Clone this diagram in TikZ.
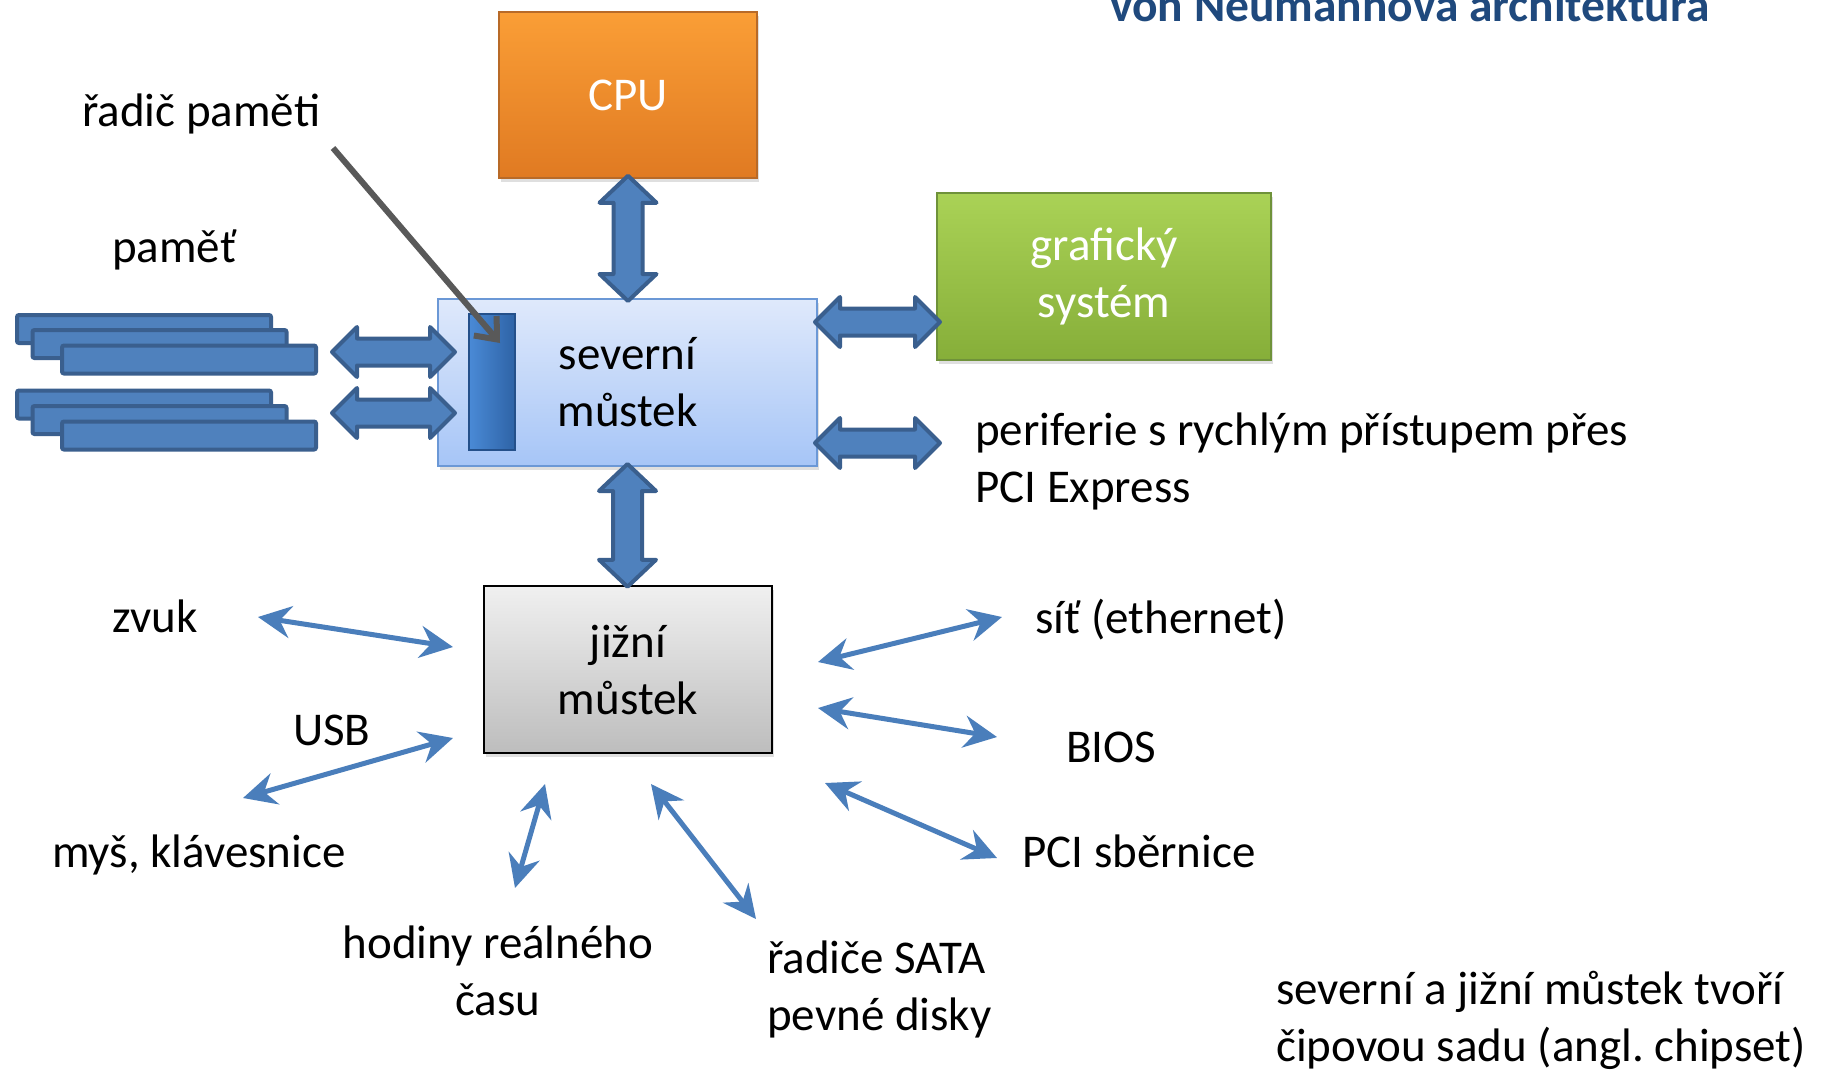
\documentclass[tikz,border=0pt]{standalone}
\usepackage{fontspec}
\setmainfont{Carlito}
\usetikzlibrary{arrows.meta,shadows,calc}
\frenchspacing
\definecolor{blk}{HTML}{4F81BD}
\definecolor{blkb}{HTML}{3A5F8E}
\definecolor{thinblue}{HTML}{4A7EBB}
\definecolor{titleblue}{HTML}{1F497D}
\definecolor{cputop}{HTML}{FA9E36}
\definecolor{cpubot}{HTML}{E07A22}
\definecolor{cpubord}{HTML}{B86A28}
\definecolor{gfxtop}{HTML}{AAD256}
\definecolor{gfxbot}{HTML}{86AE39}
\definecolor{gfxbord}{HTML}{6F923A}
\definecolor{nbtop}{HTML}{DFE9FB}
\definecolor{nbbot}{HTML}{A6C5F7}
\definecolor{nbbord}{HTML}{6B98D6}
\definecolor{mctop}{HTML}{4A8AD6}
\definecolor{mcbot}{HTML}{2E63A6}
\definecolor{mcbord}{HTML}{24508A}
\definecolor{sbtop}{HTML}{F0F0F0}
\definecolor{sbbot}{HTML}{BDBDBD}
\definecolor{grayarr}{HTML}{595959}
\newcommand\leftlines[1]{\vtop{\halign{##\hfil\cr #1\crcr}}}
\newcommand\centerlines[1]{\vtop{\halign{\hfil##\hfil\cr #1\crcr}}}
\newcommand\vblockarrow[2]{%
 \draw[blockarrow] let \p1=(#1), \p2=(#2) in
 (\x1,\y1) -- (\x1+28.5pt,\y1-27pt) -- (\x1+14.5pt,\y1-27pt) -- (\x1+14.5pt,\y2+27pt) -- (\x1+28.5pt,\y2+27pt) -- (\x1,\y2) -- (\x1-28.5pt,\y2+27pt) -- (\x1-14.5pt,\y2+27pt) -- (\x1-14.5pt,\y1-27pt) -- (\x1-28.5pt,\y1-27pt) -- cycle;}
\newcommand\hblockarrow[2]{%
 \draw[blockarrow] let \p1=(#1), \p2=(#2) in
 (\x1,\y1) -- (\x1+25pt,\y1+25pt) -- (\x1+25pt,\y1+13.5pt) -- (\x2-25pt,\y1+13.5pt) -- (\x2-25pt,\y1+25pt) -- (\x2,\y1) -- (\x2-25pt,\y1-25pt) -- (\x2-25pt,\y1-13.5pt) -- (\x1+25pt,\y1-13.5pt) -- (\x1+25pt,\y1-25pt) -- cycle;}
\begin{document}
\begin{tikzpicture}[x=1pt,y=-1pt,
  txt/.style={inner sep=0pt, font=\fontsize{47}{57}\selectfont, text=black},
  box/.style={inner sep=0pt, align=center, font=\fontsize{47}{57}\selectfont,
    drop shadow={shadow xshift=2pt, shadow yshift=-4pt, opacity=0.25}},
  stick/.style={draw=blkb, fill=blk, line width=4pt, rounded corners=2pt,
    minimum width=254pt, minimum height=28pt, inner sep=0pt},
  blockarrow/.style={draw=blkb, fill=blk, line width=4pt, line join=round},
  thinarrow/.style={draw=thinblue, line width=5pt,
    {Stealth[length=33pt,width=32pt,inset=11pt]}-{Stealth[length=33pt,width=32pt,inset=11pt]}},
  grayarrow/.style={draw=grayarr, line width=6pt, -{Straight Barb[length=18pt,width=30pt]}}
]
\fill[white] (0,0) rectangle (1822,1070);
\useasboundingbox (0,0) rectangle (1822,1070);

% title
\node[anchor=base west, inner sep=0pt, font=\fontsize{47.5}{57}\selectfont\bfseries, text=titleblue] (title) at (1110,22) {von Neumannova architektura};

% boxes
\node[box, top color=cputop, bottom color=cpubot, draw=cpubord, line width=1.5pt,
  minimum width=258pt, minimum height=166pt, text=white] (cpu) at (628,95) {CPU};
\node[box, top color=gfxtop, bottom color=gfxbot, draw=gfxbord, line width=1.5pt,
  minimum width=334pt, minimum height=167pt, text=white] (gfx) at (1104,276.5) {grafický\\systém};
\node[box, top color=nbtop, bottom color=nbbot, draw=nbbord, line width=2pt,
  minimum width=379pt, minimum height=167pt] (nb) at (627.5,382.5) {severní\\můstek};
\node[inner sep=0pt, left color=mctop, right color=mcbot, draw=mcbord, line width=1.5pt,
  minimum width=46pt, minimum height=136pt] (mc) at (492,382) {};
\node[box, top color=sbtop, bottom color=sbbot, draw=black, line width=2.5pt,
  minimum width=288pt, minimum height=167pt] (sb) at (628,669.5) {jižní\\můstek};

% memory sticks
\node[stick] (m11) at (144,329) {};
\node[stick] (m12) at (159.5,344) {};
\node[stick] (m13) at (189,359.5) {};
\node[stick] (m21) at (144,404.5) {};
\node[stick] (m22) at (159.5,420) {};
\node[stick] (m23) at (189,435.5) {};

% block arrows
\vblockarrow{[yshift=3pt]cpu.south}{[yshift=-3pt]nb.north}
\vblockarrow{[yshift=3pt]nb.south}{[yshift=-2pt]sb.north}
\coordinate (ma1) at (332,352);
\coordinate (mb1) at (455,352);
\coordinate (ma2) at (332,413);
\coordinate (mb2) at (455,413);
\hblockarrow{ma1}{mb1}
\hblockarrow{ma2}{mb2}
\coordinate (ga) at (815,322);
\coordinate (gb) at (940,322);
\coordinate (pa) at (815,443);
\coordinate (pb) at (940,443);
\hblockarrow{ga}{gb}
\hblockarrow{pa}{pb}

% labels
\node[txt, anchor=base west] (rp) at (82,127) {řadič paměti};
\node[txt, anchor=base west] (mem) at (112,262) {paměť};
\node[txt, anchor=base west] (pcie) at (975,445) {\leftlines{periferie s rychlým přístupem přes\cr PCI Express}};
\node[txt, anchor=base west] (zvuk) at (112,632) {zvuk};
\node[txt, anchor=base west] (usb) at (293,745) {USB};
\node[txt, anchor=base west] (mys) at (52,867) {myš, klávesnice};
\node[txt, anchor=base] (hod) at (498,958) {\centerlines{hodiny reálného\cr času}};
\node[txt, anchor=base west] (sata) at (767,973) {\leftlines{řadiče SATA\cr pevné disky}};
\node[txt, anchor=base west] (sit) at (1035,633) {síť (ethernet)};
\node[txt, anchor=base west] (bios) at (1066,762) {BIOS};
\node[txt, anchor=base west] (pci) at (1022,867) {PCI sběrnice};
\node[txt, anchor=base west] (chip) at (1276,1004) {\leftlines{severní a jižní můstek tvoří\cr čipovou sadu (angl. chipset)}};

% gray pointer
\coordinate (rpa) at (333,148);
\coordinate (rpb) at (500,343);
\draw[grayarrow] (rpa) -- (rpb);

% thin arrows
\coordinate (za) at (258,617);  \coordinate (zb) at (453,647);
\coordinate (ua) at (453,738);  \coordinate (ub) at (243,798);
\coordinate (ha) at (545,784);  \coordinate (hb) at (515,888);
\coordinate (sa) at (651,784);  \coordinate (sb2) at (756,919);
\coordinate (ea) at (818,662);  \coordinate (eb) at (1002,617);
\coordinate (ba) at (818,708);  \coordinate (bb) at (997,737);
\coordinate (ca) at (825,783);  \coordinate (cb) at (997,858);
\draw[thinarrow] (za) -- (zb);
\draw[thinarrow] (ua) -- (ub);
\draw[thinarrow] (ha) -- (hb);
\draw[thinarrow] (sa) -- (sb2);
\draw[thinarrow] (ea) -- (eb);
\draw[thinarrow] (ba) -- (bb);
\draw[thinarrow] (ca) -- (cb);
\end{tikzpicture}
\end{document}
